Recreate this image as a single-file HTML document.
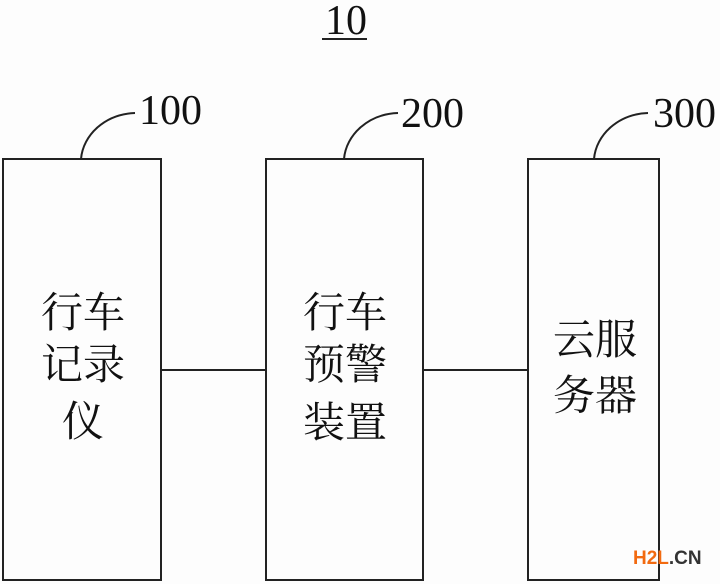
<!DOCTYPE html>
<html><head><meta charset="utf-8"><style>
html,body{margin:0;padding:0;background:#fdfdfd;}
svg{display:block;}
.n{font-family:"Liberation Serif",serif;font-size:42px;fill:#111;}
.c{font-family:"Liberation Serif","Noto Serif CJK SC",serif;font-size:42px;fill:#111;text-anchor:middle;}
</style></head><body>
<svg width="720" height="584" viewBox="0 0 720 584">
<g fill="none" stroke="#222" stroke-width="2">
<rect x="3" y="159" width="158" height="421"/>
<rect x="266" y="159" width="157" height="421"/>
<rect x="528" y="159" width="131" height="421"/>
<line x1="161" y1="370" x2="266" y2="370"/>
<line x1="423" y1="370" x2="528" y2="370"/>
<path d="M81,159 C83,135 105,114 135,113"/>
<path d="M344,159 C346,135 368,114 398,113"/>
<path d="M594,159 C596,135 618,114 648,113"/>
<line x1="322" y1="39" x2="367" y2="39" stroke-width="2"/>
</g>
<text class="n" x="325" y="34">10</text>
<text class="n" x="139" y="124">100</text>
<text class="n" x="401" y="127">200</text>
<text class="n" x="653" y="127">300</text>
<text class="c" x="83" y="327">行车</text>
<text class="c" x="83" y="379">记录</text>
<text class="c" x="83" y="436">仪</text>
<text class="c" x="345" y="327">行车</text>
<text class="c" x="345" y="379">预警</text>
<text class="c" x="345" y="437">装置</text>
<text class="c" x="595" y="354">云服</text>
<text class="c" x="595" y="410">务器</text>
<text x="633" y="564" font-family="Liberation Sans,sans-serif" font-weight="bold" font-size="19" fill="#f26a10">H2L<tspan fill="#333">.CN</tspan></text>
</svg>
</body></html>
